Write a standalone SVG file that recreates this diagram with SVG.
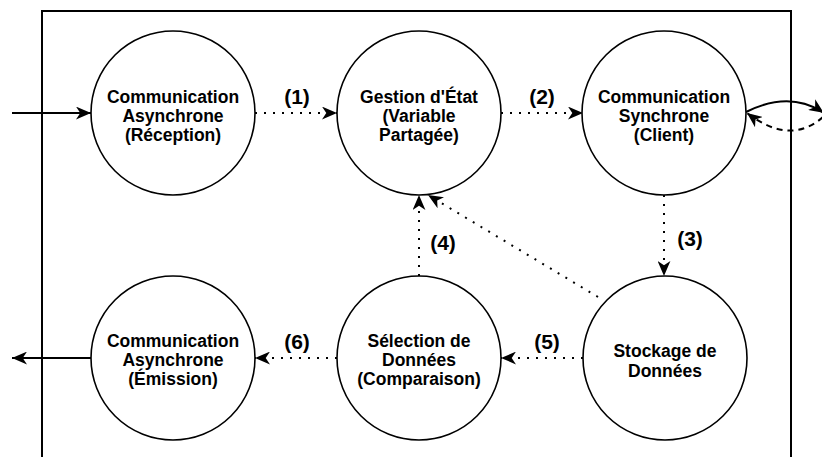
<svg xmlns="http://www.w3.org/2000/svg" width="822" height="457" viewBox="0 0 822 457">
<style>
.node{fill:#fff;stroke:#000;stroke-width:1.6}
.lbl{font-family:"Liberation Sans",Arial,Helvetica,sans-serif;font-weight:bold;font-size:17.5px;fill:#000;text-anchor:middle}
.num{font-family:"Liberation Sans",Arial,Helvetica,sans-serif;font-weight:bold;font-size:21px;fill:#000;text-anchor:middle}
.solid{fill:none;stroke:#000;stroke-width:2}
.dot{fill:none;stroke:#000;stroke-width:2;stroke-dasharray:2 7}
.dash{fill:none;stroke:#000;stroke-width:2;stroke-dasharray:6 5}
</style>
<defs>
<marker id="ah" viewBox="0 0 14 12" refX="14" refY="6" markerWidth="15" markerHeight="13" markerUnits="userSpaceOnUse" orient="auto">
<path d="M0,0 L14,6 L0,12 L4,6 Z" fill="#000" stroke="none"/>
</marker>
</defs>
<rect x="42" y="11" width="749" height="460" fill="none" stroke="#000" stroke-width="2"/>
<g id="connectors">
<path class="solid" d="M12,113 L91,113" marker-end="url(#ah)"/>
<path class="solid" d="M91,358 L12,358" marker-end="url(#ah)"/>
<path class="dot" d="M255,113 L337,113" marker-end="url(#ah)"/>
<path class="dot" d="M501,113 L583,113" marker-end="url(#ah)"/>
<path class="dot" d="M664,195 L664,276" marker-end="url(#ah)"/>
<path class="dot" d="M419,276 L419,195" marker-end="url(#ah)"/>
<path class="dot" d="M598,297 L428,195" marker-end="url(#ah)"/>
<path class="dot" d="M583,358 L501,358" marker-end="url(#ah)"/>
<path class="dot" d="M337,358 L255,358" marker-end="url(#ah)"/>
<path class="solid" d="M746,112 Q790,90 824,113" marker-end="url(#ah)"/>
<path class="dash" d="M823,117 Q790,146 747,113" marker-end="url(#ah)"/>
<text class="num" x="297" y="104">(1)</text>
<text class="num" x="542" y="104">(2)</text>
<text class="num" x="690" y="246">(3)</text>
<text class="num" x="443" y="250">(4)</text>
<text class="num" x="547" y="349">(5)</text>
<text class="num" x="297" y="349">(6)</text>
</g>
<g id="n1">
<circle class="node" cx="173" cy="113" r="82"/>
<text class="lbl" x="173" y="103">Communication</text>
<text class="lbl" x="173" y="122">Asynchrone</text>
<text class="lbl" x="173" y="141">(Réception)</text>
</g>
<g id="n2">
<circle class="node" cx="419" cy="113" r="82"/>
<text class="lbl" x="419" y="103">Gestion d'État</text>
<text class="lbl" x="419" y="122">(Variable</text>
<text class="lbl" x="419" y="141">Partagée)</text>
</g>
<g id="n3">
<circle class="node" cx="664" cy="113" r="82"/>
<text class="lbl" x="664" y="103">Communication</text>
<text class="lbl" x="664" y="122">Synchrone</text>
<text class="lbl" x="664" y="141">(Client)</text>
</g>
<g id="n4">
<circle class="node" cx="173" cy="358" r="82"/>
<text class="lbl" x="173" y="347">Communication</text>
<text class="lbl" x="173" y="366">Asynchrone</text>
<text class="lbl" x="173" y="385">(Émission)</text>
</g>
<g id="n5">
<circle class="node" cx="419" cy="358" r="82"/>
<text class="lbl" x="419" y="347">Sélection de</text>
<text class="lbl" x="419" y="366">Données</text>
<text class="lbl" x="419" y="385">(Comparaison)</text>
</g>
<g id="n6">
<circle class="node" cx="665" cy="358" r="82"/>
<text class="lbl" x="665" y="357">Stockage de</text>
<text class="lbl" x="665" y="377">Données</text>
</g>
</svg>
